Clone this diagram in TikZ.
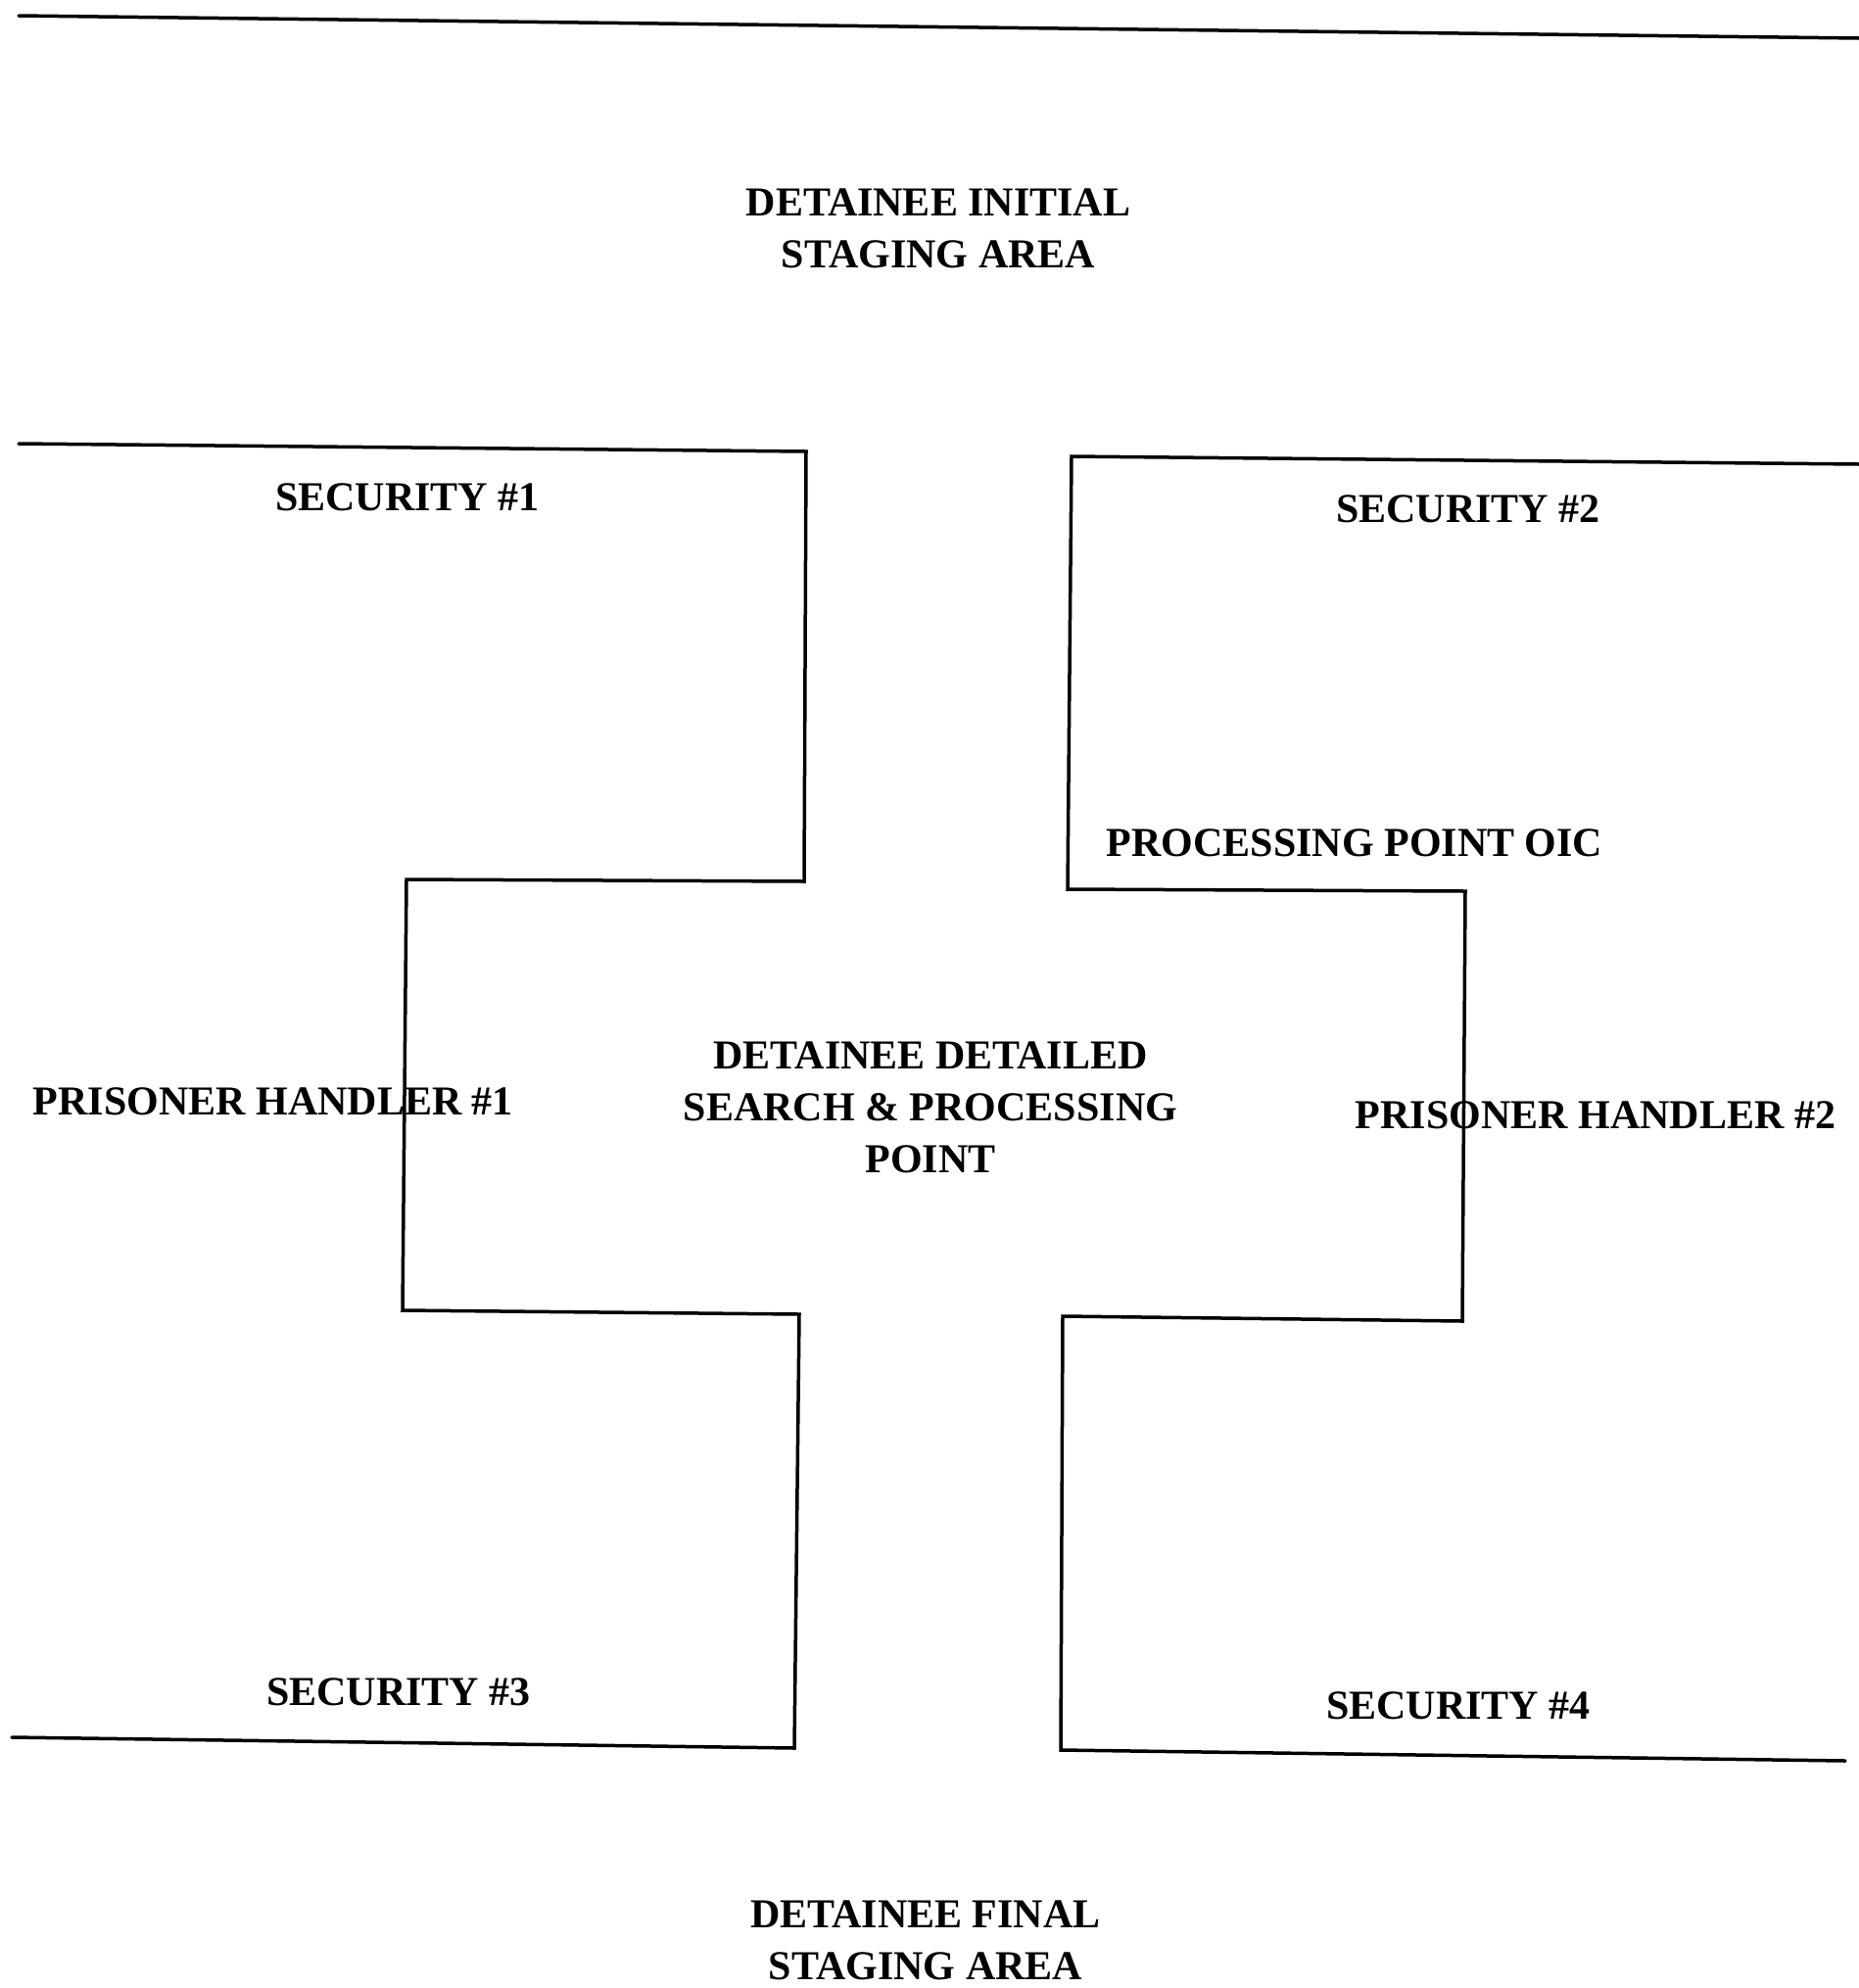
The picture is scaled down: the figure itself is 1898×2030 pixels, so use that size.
\documentclass[tikz,border=0pt]{standalone}
\usepackage{fontspec}
\setmainfont{Liberation Serif}
\begin{document}
\begin{tikzpicture}[x=1pt,y=-1pt,
  wall/.style={line width=3.5pt, line join=miter, line cap=round},
  lbl/.style={font=\fontsize{42}{53}\selectfont\bfseries, inner sep=0pt, align=center}]
\useasboundingbox (0,0) rectangle (1898,2030);
% top boundary
\draw[wall] (19,16) -- (1898,39);
% left block
\draw[wall] (19,453) -- (823,461) -- (821,900) -- (415,898) -- (411,1338) -- (816,1342) -- (811,1785) -- (12,1774);
% right block
\draw[wall] (1898,474) -- (1094,466) -- (1090,908) -- (1496,910) -- (1493,1349) -- (1085,1344) -- (1083,1787) -- (1884,1798);
% labels
\node[lbl] (init) at (958,233) {DETAINEE INITIAL\\STAGING AREA};
\node[lbl, anchor=base] (sec1) at (416,521) {SECURITY \#1};
\node[lbl, anchor=base] (sec2) at (1499,533) {SECURITY \#2};
\node[lbl, anchor=base] (oic) at (1383,874) {PROCESSING POINT OIC};
\node[lbl, anchor=base] (ph1) at (279,1138) {PRISONER HANDLER \#1};
\node[lbl] (search) at (950,1131) {DETAINEE DETAILED\\SEARCH \& PROCESSING\\POINT};
\node[lbl, anchor=base] (ph2) at (1629,1152) {PRISONER HANDLER \#2};
\node[lbl, anchor=base] (sec3) at (407,1741) {SECURITY \#3};
\node[lbl, anchor=base] (sec4) at (1489,1755) {SECURITY \#4};
\node[lbl] (final) at (945,1981) {DETAINEE FINAL\\STAGING AREA};
\end{tikzpicture}
\end{document}
